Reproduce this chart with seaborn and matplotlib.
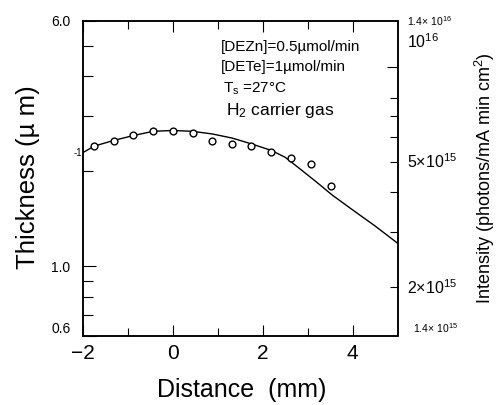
import numpy as np
import pandas as pd
import seaborn as sns
import matplotlib
matplotlib.use("Agg")
import matplotlib.pyplot as plt
from matplotlib.ticker import NullFormatter, FixedLocator
from matplotlib.transforms import blended_transform_factory

# thickness (open circles, left axis)
dist_pts = [-1.75, -1.31, -0.88, -0.44, 0.0, 0.44, 0.88, 1.31, 1.75, 2.19, 2.63, 3.08, 3.52]
thickness = [2.41, 2.50, 2.61, 2.69, 2.69, 2.65, 2.50, 2.45, 2.41, 2.30, 2.20, 2.11, 1.80]

# intensity (solid line, right axis)
curve_x = [-2.0, -1.75, -1.31, -0.88, -0.44, 0.0, 0.44, 0.88, 1.32, 1.77,
           2.2, 2.5, 2.83, 3.2, 3.55, 4.0, 4.5, 5.0]
curve_I = [5.35e15, 5.61e15, 5.85e15, 6.06e15, 6.25e15, 6.29e15, 6.25e15, 6.13e15, 5.95e15, 5.69e15,
           5.43e15, 5.17e15, 4.75e15, 4.31e15, 3.92e15, 3.52e15, 3.13e15, 2.76e15]

left_major = [0.6, 1.0, 6.0]
left_major_lbl = ["0.6", "1.0", "6.0"]
left_minor = [0.7, 0.8, 0.9, 2, 3, 4, 5]
right_minor = [2e15, 3e15, 4e15, 5e15, 6e15, 7e15, 8e15]

pts = pd.DataFrame({"Distance": dist_pts, "Thickness": thickness})
crv = pd.DataFrame({"Distance": curve_x, "Intensity": curve_I})

sns.set_style("ticks", {"axes.edgecolor": "black", "text.color": "black",
                        "axes.labelcolor": "black", "xtick.color": "black",
                        "ytick.color": "black"})
plt.rcParams["font.family"] = ["Liberation Sans", "DejaVu Sans"]
plt.rcParams["mathtext.fontset"] = "custom"
plt.rcParams["mathtext.rm"] = "Liberation Sans"
plt.rcParams["mathtext.it"] = "Liberation Sans:italic"
plt.rcParams["axes.linewidth"] = 1.1

W, H = 498, 405
fig = plt.figure(figsize=(W / 100, H / 100), dpi=100)
ax = fig.add_axes([83 / W, (H - 336) / H, 314.5 / W, 315 / H])
ax2 = ax.twinx()

sns.lineplot(data=crv, x="Distance", y="Intensity", ax=ax2, color="black", lw=1.0)
sns.scatterplot(data=pts, x="Distance", y="Thickness", ax=ax, marker="o",
                facecolor="white", edgecolor="black", s=24, linewidth=1.0, zorder=5)

# circles above the line
ax.set_zorder(ax2.get_zorder() + 1)
ax.patch.set_visible(False)

ax.set_xlim(-2, 5)
ax.set_yscale("log")
ax.set_ylim(0.6, 6.0)
ax2.set_yscale("log")
ax2.set_ylim(1.4e15, 1.4e16)

ax.set_xticks([-2, 0, 2, 4])
ax.set_xticks([-1, 1, 3], minor=True)
ax.yaxis.set_major_locator(FixedLocator(left_major))
ax.set_yticklabels(left_major_lbl)
ax.yaxis.set_minor_locator(FixedLocator(left_minor))
ax.yaxis.set_minor_formatter(NullFormatter())

ax.tick_params(axis="x", which="both", direction="in", top=True, labelsize=15, pad=6, width=0.8)
ax.tick_params(axis="x", which="major", length=8)
ax.tick_params(axis="x", which="minor", length=6)
ax.tick_params(axis="y", which="both", direction="in", right=False, labelsize=10, pad=9, width=0.8)
ax.tick_params(axis="y", which="major", length=9)
ax.tick_params(axis="y", which="minor", length=7)
ax.get_yticklabels()[0].set_verticalalignment("bottom")

ax2.yaxis.set_major_locator(FixedLocator([1e16]))
ax2.yaxis.set_minor_locator(FixedLocator(right_minor))
ax2.yaxis.set_major_formatter(NullFormatter())
ax2.yaxis.set_minor_formatter(NullFormatter())
ax2.tick_params(axis="y", which="both", direction="in", width=0.8)
ax2.tick_params(axis="y", which="major", length=8)
ax2.tick_params(axis="y", which="minor", length=5.5)

# right-hand scale labels
tr = blended_transform_factory(ax2.transAxes, ax2.transData)
ax2.text(1.03, 1.4e16, r"1.4$\times$ 10$^{16}$", transform=tr, fontsize=7.5, va="center", ha="left")
ax2.text(1.03, 1.2e16, r"10$^{16}$", transform=tr, fontsize=11.5, va="center", ha="left")
ax2.text(1.03, 5e15, r"5$\times$10$^{15}$", transform=tr, fontsize=11.5, va="center", ha="left")
ax2.text(1.03, 2e15, r"2$\times$10$^{15}$", transform=tr, fontsize=11.5, va="center", ha="left")
ax2.text(1.05, 1.48e15, r"1.4$\times$ 10$^{15}$", transform=tr, fontsize=7.5, va="center", ha="left")

ax.text(-0.004, 0.581, "-1", transform=ax.transAxes, fontsize=7, ha="right", va="center")

# conditions
ax.text(0.439, 0.919, "[DEZn]=0.5\u00b5mol/min", transform=ax.transAxes, fontsize=11, va="center")
ax.text(0.439, 0.855, "[DETe]=1\u00b5mol/min", transform=ax.transAxes, fontsize=11, va="center")
ax.text(0.445, 0.786, "T$_{\\rm s}$ =27\u00b0C", transform=ax.transAxes, fontsize=11, va="center")
ax.text(0.455, 0.717, "H$_2$ carrier gas", transform=ax.transAxes, fontsize=12.5, va="center")

ax.set_xlabel("Distance  (mm)", fontsize=18)
ax.xaxis.set_label_coords(0.506, -0.171)
ax.xaxis.label.set_verticalalignment("center")
ax.set_ylabel("Thickness (\u00b5 m)", fontsize=18.5)
ax.yaxis.set_label_coords(-0.175, 0.505)
ax.yaxis.label.set_verticalalignment("center")
ax2.set_ylabel("Intensity (photons/mA min cm$^2$)", fontsize=13)
ax2.yaxis.set_label_coords(1.277, 0.5)
ax2.yaxis.label.set_verticalalignment("center")

fig.savefig("out.png", dpi=100)
